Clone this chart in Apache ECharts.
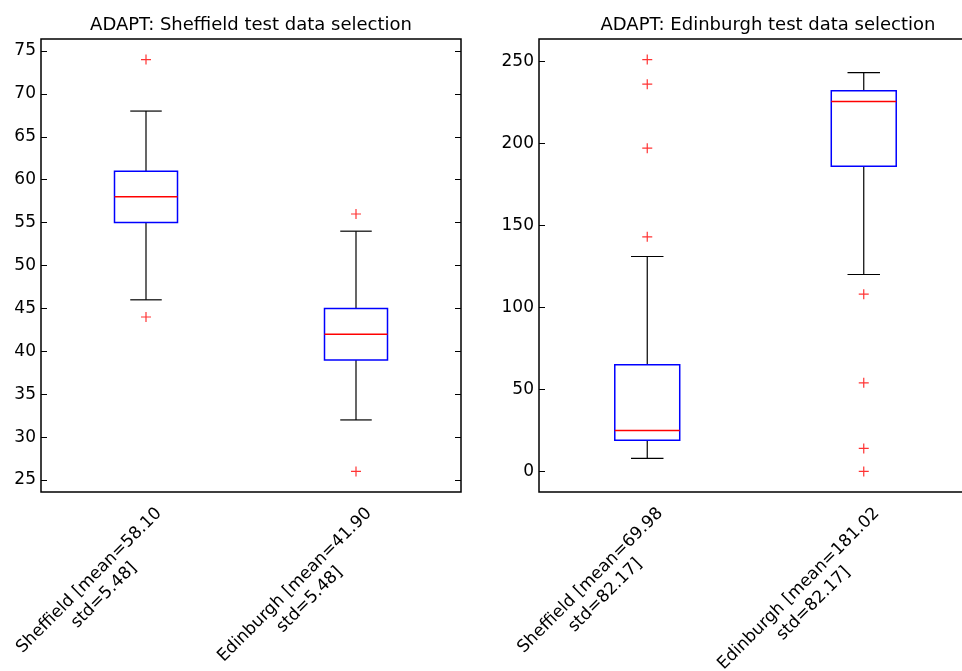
<!DOCTYPE html>
<html>
<head>
<meta charset="utf-8">
<script src="https://cdn.jsdelivr.net/npm/echarts@6/dist/echarts.min.js"></script>
<style>
  html, body { margin: 0; padding: 0; background: #fff; }
  #main { width: 962px; height: 671px; }
</style>
</head>
<body>
<div id="main"></div>
<script>
// 数据
var catsLeft = ['Sheffield [mean=58.10\nstd=5.48]', 'Edinburgh [mean=41.90\nstd=5.48]'];
var catsRight = ['Sheffield [mean=69.98\nstd=82.17]', 'Edinburgh [mean=181.02\nstd=82.17]'];

// [min, Q1, median, Q3, max]
var boxLeft = [[46, 55, 58, 61, 68], [32, 39, 42, 45, 54]];
var boxRight = [[8, 19, 25, 65, 131], [120, 186, 225.5, 232, 243]];

// [category index, value]
var outLeft = [[0, 74], [0, 44], [1, 56], [1, 26]];
var outRight = [[0, 251], [0, 236], [0, 197], [0, 143], [1, 108], [1, 54], [1, 14], [1, 0]];

var ticksLeft = [25, 30, 35, 40, 45, 50, 55, 60, 65, 70, 75];
var ticksRight = [0, 50, 100, 150, 200, 250];

var FONT = 'DejaVu Sans';
var plusPath = 'path://M4.4,0h1.2v4.4h4.4v1.2h-4.4v4.4h-1.2v-4.4h-4.4v-1.2h4.4z';

var myChart = echarts.init(document.getElementById('main'));

// matlab 的 boxplot 会把 y 轴两端各留出 5%
function padRange(box, out) {
    var vals = [];
    box.forEach(function (b) { vals = vals.concat(b); });
    out.forEach(function (o) { vals.push(o[1]); });
    var lo = Math.min.apply(null, vals), hi = Math.max.apply(null, vals);
    var d = (hi - lo) * 0.05;
    return [lo - d, hi + d];
}
var rangeLeft = padRange(boxLeft, outLeft);
var rangeRight = padRange(boxRight, outRight);

function boxData(box) {
    return box.map(function (b, i) { return [i].concat(b); });
}

function renderBox(params, api) {
    var x = api.value(0);
    var pMin = api.coord([x, api.value(1)]);
    var pQ1 = api.coord([x, api.value(2)]);
    var pMed = api.coord([x, api.value(3)]);
    var pQ3 = api.coord([x, api.value(4)]);
    var pMax = api.coord([x, api.value(5)]);
    var bw = api.size([1, 0])[0] * 0.3;
    var cx = pMed[0];
    var black = { stroke: '#000', lineWidth: 1.2 };
    return {
        type: 'group',
        children: [
            { type: 'line', shape: { x1: cx, y1: pQ3[1], x2: cx, y2: pMax[1] }, style: black },
            { type: 'line', shape: { x1: cx, y1: pQ1[1], x2: cx, y2: pMin[1] }, style: black },
            { type: 'line', shape: { x1: cx - bw / 4, y1: pMax[1], x2: cx + bw / 4, y2: pMax[1] }, style: black },
            { type: 'line', shape: { x1: cx - bw / 4, y1: pMin[1], x2: cx + bw / 4, y2: pMin[1] }, style: black },
            { type: 'rect', shape: { x: cx - bw / 2, y: pQ3[1], width: bw, height: pQ1[1] - pQ3[1] },
              style: { fill: 'none', stroke: '#0000ff', lineWidth: 1.5 } },
            { type: 'line', shape: { x1: cx - bw / 2, y1: pMed[1], x2: cx + bw / 2, y2: pMed[1] },
              style: { stroke: '#ff0000', lineWidth: 1.5 } }
        ]
    };
}

function xLabel(value) {
    var parts = value.split('\n');
    return '{a|' + parts[0] + '}\n{b|' + parts[1] + '}';
}

function makeX(gridIndex, cats) {
    return {
        type: 'category', gridIndex: gridIndex, data: cats,
        axisLine: { show: false }, axisTick: { show: false }, splitLine: { show: false },
        axisLabel: {
            interval: 0, rotate: 45, margin: -17, align: 'right', verticalAlign: 'top',
            padding: [24, 16, 0, 0], color: '#000', formatter: xLabel,
            rich: {
                a: { fontFamily: FONT, fontSize: 17, lineHeight: 21, color: '#000' },
                b: { fontFamily: FONT, fontSize: 17, lineHeight: 21, color: '#000', align: 'center' }
            }
        }
    };
}

function makeY(gridIndex, range, ticks, pos, showLabel) {
    return {
        type: 'value', gridIndex: gridIndex, position: pos,
        min: range[0], max: range[1],
        axisLine: { show: false },
        axisTick: { show: true, inside: true, length: 6, customValues: ticks,
                    lineStyle: { color: '#000', width: 1 } },
        splitLine: { show: false },
        axisLabel: {
            show: showLabel, customValues: ticks, margin: 5,
            color: '#000', fontFamily: FONT, fontSize: 17
        }
    };
}

var option = {
    animation: false,
    backgroundColor: '#fff',
    title: [
        { text: 'ADAPT: Sheffield test data selection', left: 246, top: 11, textAlign: 'center',
          textStyle: { fontFamily: FONT, fontSize: 18, fontWeight: 'normal', color: '#000' } },
        { text: 'ADAPT: Edinburgh test data selection', left: 763, top: 11, textAlign: 'center',
          textStyle: { fontFamily: FONT, fontSize: 18, fontWeight: 'normal', color: '#000' } }
    ],
    grid: [
        { left: 41, top: 39, width: 420, height: 453, outerBoundsMode: 'none', containLabel: false,
          show: true, borderColor: '#000', borderWidth: 1.5, backgroundColor: '#fff' },
        { left: 539, top: 39, width: 433, height: 453, outerBoundsMode: 'none', containLabel: false,
          show: true, borderColor: '#000', borderWidth: 1.5, backgroundColor: '#fff' }
    ],
    xAxis: [makeX(0, catsLeft), makeX(1, catsRight)],
    yAxis: [
        makeY(0, rangeLeft, ticksLeft, 'left', true),
        makeY(0, rangeLeft, ticksLeft, 'right', false),
        makeY(1, rangeRight, ticksRight, 'left', true)
    ],
    series: [
        { type: 'custom', xAxisIndex: 0, yAxisIndex: 0, renderItem: renderBox, data: boxData(boxLeft) },
        { type: 'custom', xAxisIndex: 1, yAxisIndex: 2, renderItem: renderBox, data: boxData(boxRight) },
        { type: 'scatter', xAxisIndex: 0, yAxisIndex: 0, symbol: plusPath, symbolSize: 10,
          itemStyle: { color: '#ff0000' }, data: outLeft },
        { type: 'scatter', xAxisIndex: 1, yAxisIndex: 2, symbol: plusPath, symbolSize: 10,
          itemStyle: { color: '#ff0000' }, data: outRight }
    ]
};
option && myChart.setOption(option);
</script>
</body>
</html>
